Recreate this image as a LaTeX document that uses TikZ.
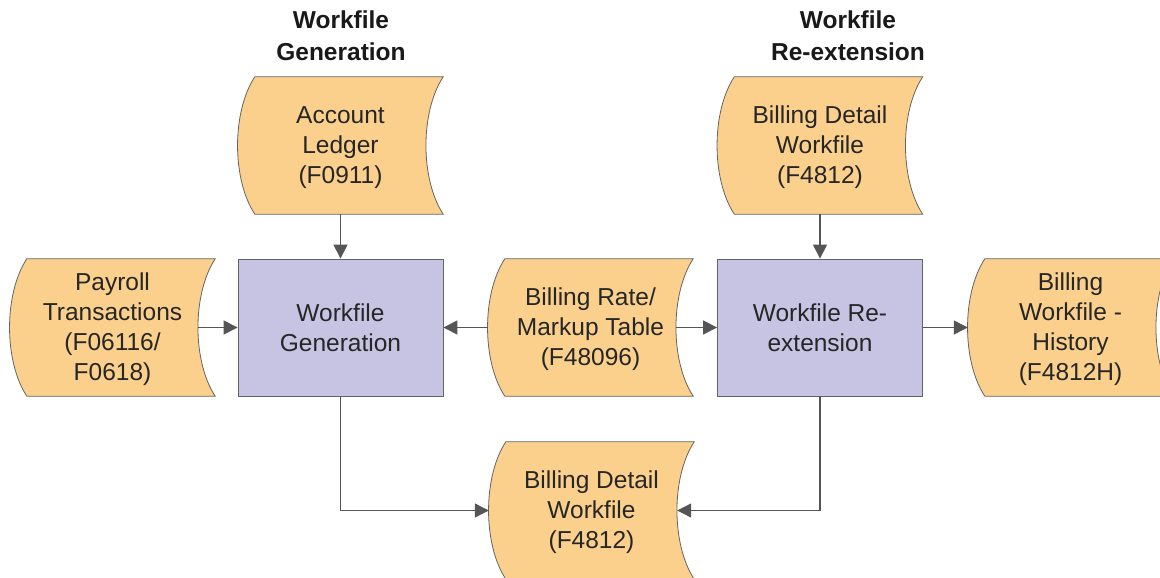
\documentclass[tikz,border=0pt]{standalone}
\usepackage{fontspec}
\setmainfont{Liberation Sans}
\usetikzlibrary{calc,arrows.meta}
\definecolor{orfill}{RGB}{250,208,140}
\definecolor{pufill}{RGB}{198,196,226}
\definecolor{edge}{RGB}{100,100,100}
\definecolor{conn}{RGB}{85,85,85}
\tikzset{
  x=1pt, y=-1pt,
  frame/.style={minimum width=205pt, minimum height=137pt, inner sep=0pt, align=center,
    font=\fontsize{24.5}{30}\selectfont, text=black!85},
  proc/.style={frame, draw=edge, fill=pufill, line width=0.8pt},
  datan/.style={frame},
  dtext/.style={align=center, inner sep=0pt, font=\fontsize{24.5}{30}\selectfont, text=black!85},
  tape/.style={draw=edge, fill=orfill, line width=0.8pt},
  title/.style={align=center, font=\fontsize{24.5}{32}\selectfont\bfseries, text=black!90},
  conn/.style={draw=conn, line width=1.1pt, -{Triangle[length=14pt,width=14pt]}},
}
\newcommand{\tapeshape}[1]{%
  \path[tape] ($(#1.north west)+(17,0)$) .. controls ($(#1.north west)+(-6,35)$) and ($(#1.south west)+(-6,-35)$) .. ($(#1.south west)+(17,0)$)
    -- (#1.south east) .. controls ($(#1.south east)+(-23,-35)$) and ($(#1.north east)+(-23,35)$) .. (#1.north east) -- cycle;}
\begin{document}
\begin{tikzpicture}
\clip (0,0) rectangle (1160,578);
\useasboundingbox (0,0) rectangle (1160,578);
\fill[white] (0,0) rectangle (1160,578);
% titles
\node[title] (t1) at (341,36) {Workfile\\Generation};
\node[title] (t2) at (848,36) {Workfile\\Re-extension};
% data shapes (placeholder nodes)
\path (340.5,145.5) node[datan] (al) {};
\path (112.5,327.5) node[datan] (pt) {};
\path (590.5,327.5) node[datan] (br) {};
\path (820,145.5) node[datan] (bd1) {};
\path (1070.5,327.5) node[datan] (bwh) {};
\path (591.5,510.5) node[datan] (bd2) {};
\tapeshape{al}\tapeshape{pt}\tapeshape{br}\tapeshape{bd1}\tapeshape{bwh}\tapeshape{bd2}
\node[dtext] (alt) at ($(al)+(0,2)$) {Account\\Ledger\\(F0911)};
\node[dtext] (ptt) at ($(pt)+(0,1.5)$) {Payroll\\Transactions\\(F06116/\\F0618)};
\node[dtext] (brt) at ($(br)+(0,1.5)$) {Billing Rate/\\Markup Table\\(F48096)};
\node[dtext] (bd1t) at ($(bd1)+(0,2)$) {Billing Detail\\Workfile\\(F4812)};
\node[dtext] (bwht) at ($(bwh)+(0,1.5)$) {Billing\\Workfile -\\History\\(F4812H)};
\node[dtext] (bd2t) at ($(bd2)+(0,2)$) {Billing Detail\\Workfile\\(F4812)};
% process boxes
\node[proc] (wg) at (340.5,327.5) {Workfile\\Generation};
\node[proc] (wr) at (820,327.5) {Workfile Re-\\extension};
% connectors
\draw[conn] (al.south) -- (wg.north);
\draw[conn] (bd1.south) -- (wr.north);
\draw[conn] ($(pt.east)+(-17,0)$) -- (wg.west);
\draw[conn] (br.west) -- (wg.east);
\draw[conn] ($(br.east)+(-17,0)$) -- (wr.west);
\draw[conn] (wr.east) -- (bwh.west);
\draw[conn] (wg.south) |- (bd2.west);
\draw[conn] (wr.south) |- ($(bd2.east)+(-17,0)$);
\end{tikzpicture}
\end{document}
